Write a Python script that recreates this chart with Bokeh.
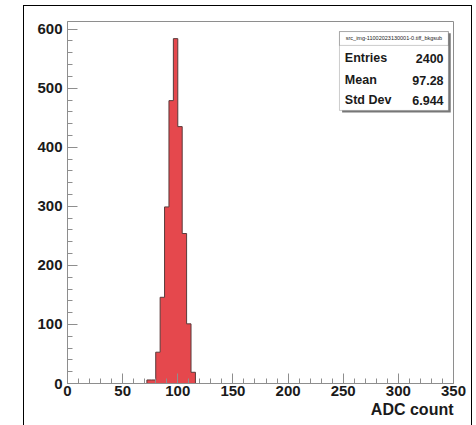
from bokeh.plotting import figure
from bokeh.models import Range1d, SingleIntervalTicker, Label, BoxAnnotation, Title
from bokeh.embed import file_html
from bokeh.resources import INLINE

# ---- data ----
bin_edges = [72, 76, 80, 84, 88, 92, 96, 100, 104, 108, 112, 116]
counts = [6, 6, 53, 146, 299, 479, 584, 435, 254, 101, 19]
hist_name = "src_img-11002023130001-0.tiff_bkgsub"
stat_names = ["Entries", "Mean", "Std Dev"]
stat_values = ["2400", "97.28", "6.944"]
x_label = "ADC count"

FONT = "Liberation Sans"
FILL = "#e5484d"
GREY = "#8e8e8e"

p = figure(width=476, height=425, output_backend="svg", toolbar_location=None,
           x_range=Range1d(0, 350), y_range=Range1d(0, 613),
           min_border_left=67, min_border_right=23, min_border_top=21, min_border_bottom=42)
p.background_fill_color = "white"
p.border_fill_alpha = 0
p.outline_line_color = GREY
p.outline_line_width = 1
p.xgrid.visible = False
p.ygrid.visible = False
# outer canvas border (drawn by the page behind the transparent canvas border)
line = "linear-gradient(#000,#000)"
p.styles = {
    "background": (f"{line} 23px 5px / 1px 420px no-repeat, "
                   f"{line} 23px 5px / 449px 1px no-repeat, "
                   f"{line} 471px 5px / 1px 420px no-repeat, white"),
}

# histogram: one filled step polygon built from the bins
xs, ys = [bin_edges[0]], [0]
for i, c in enumerate(counts):
    xs += [bin_edges[i], bin_edges[i + 1]]
    ys += [c, c]
xs.append(bin_edges[-1]); ys.append(0)
p.patch(xs, ys, fill_color=FILL, line_color="#5a3a3a", line_width=1)

# axes
for ax, interval in ((p.xaxis[0], 50), (p.yaxis[0], 100)):
    ax.ticker = SingleIntervalTicker(interval=interval, num_minor_ticks=5)
    ax.axis_line_color = GREY
    ax.major_tick_line_color = GREY
    ax.minor_tick_line_color = GREY
    ax.major_tick_in = 10
    ax.major_tick_out = 0
    ax.minor_tick_in = 5
    ax.minor_tick_out = 0
    ax.major_label_text_font = FONT
    ax.major_label_text_font_style = "bold"
    ax.major_label_text_font_size = "15px"
    ax.major_label_text_color = "#1a1a1a"
p.xaxis.major_label_standoff = 2
p.yaxis.major_label_standoff = 5

p.add_layout(Title(text=x_label, align="right", text_font=FONT, text_font_style="bold",
                   text_font_size="16px", text_color="#1a1a1a", standoff=0, offset=0), "below")

# stats box (shadow, box, title row)
p.add_layout(BoxAnnotation(left=249, right=347.5, top=593, bottom=459,
                           fill_color="#777777", fill_alpha=1, line_color=None))
p.add_layout(BoxAnnotation(left=246.6, right=345.4, top=596, bottom=462.4,
                           fill_color="white", fill_alpha=1, line_color="#555555", line_width=1))
p.add_layout(BoxAnnotation(left=246.6, right=345.4, top=596, bottom=572.5,
                           fill_color="white", fill_alpha=0, line_color="#555555", line_width=1))
p.add_layout(Label(x=296, y=585, text=hist_name, text_align="center", text_baseline="middle",
                   text_font=FONT, text_font_size="5.5px", text_color="#222222"))
row_y = [550.5, 513.5, 479.5]
for name, val, yy in zip(stat_names, stat_values, row_y):
    p.add_layout(Label(x=251.5, y=yy, text=name, text_align="left", text_baseline="middle",
                       text_font=FONT, text_font_style="bold", text_font_size="12.5px",
                       text_color="#1a1a1a"))
    p.add_layout(Label(x=341, y=yy, text=val, text_align="right", text_baseline="middle",
                       text_font=FONT, text_font_style="bold", text_font_size="12.5px",
                       text_color="#1a1a1a"))

open("out.html", "w").write(file_html(p, INLINE))
